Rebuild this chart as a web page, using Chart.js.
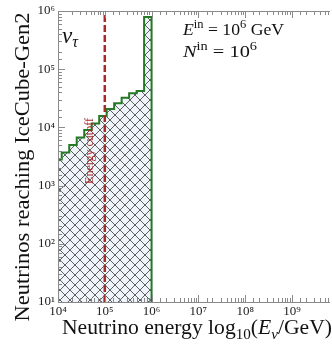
<!DOCTYPE html>
<html>
<head>
<meta charset="utf-8">
<script src="https://cdn.jsdelivr.net/npm/chart.js@4.4.1/dist/chart.umd.min.js"></script>
<style>
    html, body { margin: 0; padding: 0; background: #fff; overflow: hidden; }
</style>
</head>
<body>
<canvas id="TauChart" width="332" height="348"></canvas>
<script>
// log10 of the histogram bin edges (0.16 dex bins), and counts per bin
const binEdges = [3.92, 4.08, 4.24, 4.40, 4.56, 4.72, 4.88, 5.04, 5.20, 5.36, 5.52, 5.68, 5.84, 6.00];
const binCounts = [2800, 3700, 5000, 6700, 9000, 11700, 15700, 20700, 25900, 32400, 38500, 42200, 790000];
const cutoffEnergy = 1e5;
const xRange = [1e4, 6.5e9];
const yRange = [10, 1e6];

const serif = '"Liberation Serif", serif';
const green = "#267a26";
const red = "#a52a2a";

function isDecade(v) {
    const e = Math.log10(v);
    return Math.abs(e - Math.round(e)) < 1e-6;
}

function decadeLabel(v) {
    const sup = "⁰¹²³⁴⁵⁶⁷⁸⁹";
    if (!isDecade(v)) return "";
    const e = String(Math.round(Math.log10(v)));
    return "10" + e.split("").map(d => sup[d]).join("");
}

function hatchPattern() {
    const c = document.createElement("canvas");
    c.width = 10;
    c.height = 10;
    const g = c.getContext("2d");
    g.fillStyle = "#eef4f9";
    g.fillRect(0, 0, 10, 10);
    g.strokeStyle = "#3a3a3a";
    g.lineWidth = 0.8;
    g.beginPath();
    for (let k = -10; k <= 10; k += 10) {
        g.moveTo(k, 0); g.lineTo(k + 10, 10);
        g.moveTo(k, 10); g.lineTo(k + 10, 0);
    }
    g.stroke();
    return g.createPattern(c, "repeat");
}

// step outline: bin left edges carry the count, closed down to the axis at the last edge
// (stepped "before": horizontal at the previous value, then vertical)
function histPoints() {
    const pts = [{ x: Math.pow(10, binEdges[0]), y: binCounts[0] }];
    binCounts.forEach((c, i) => {
        pts.push({ x: Math.pow(10, binEdges[i + 1]), y: i + 1 < binCounts.length ? binCounts[i + 1] : yRange[0] });
    });
    return pts;
}

// mixed-font text; if width is given the run is stretched to that width (palatino is wider than times)
function drawRich(ctx, parts, x, y, align, width) {
    let w = 0;
    parts.forEach(p => { ctx.font = p.font; p.w = ctx.measureText(p.t).width; w += p.w; });
    const sx = width ? width / w : 1;
    ctx.save();
    ctx.translate(x, y);
    ctx.scale(sx, 1);
    let cx = align === "center" ? -w / 2 : 0;
    parts.forEach(p => {
        ctx.font = p.font;
        ctx.fillText(p.t, cx, p.dy || 0);
        cx += p.w;
    });
    ctx.restore();
}

const frameTicks = {
    id: "frameTicks",
    afterDatasetsDraw(chart) {
        const { ctx, chartArea: a, scales: { x, y } } = chart;
        ctx.save();
        ctx.strokeStyle = "#8a8a8a";
        ctx.lineWidth = 1;
        ctx.beginPath();
        x.ticks.forEach(t => {
            const px = Math.round(x.getPixelForValue(t.value)) + 0.5;
            if (px > a.right - 1) return;
            const len = isDecade(t.value) ? 7 : 4;
            ctx.moveTo(px, a.bottom); ctx.lineTo(px, a.bottom - len);
            ctx.moveTo(px, a.top); ctx.lineTo(px, a.top + len);
        });
        y.ticks.forEach(t => {
            const py = Math.round(y.getPixelForValue(t.value)) + 0.5;
            const len = isDecade(t.value) ? 7 : 4;
            ctx.moveTo(a.left, py); ctx.lineTo(a.left + len, py);
        });
        ctx.moveTo(a.left + 0.5, a.top); ctx.lineTo(a.left + 0.5, a.bottom);
        ctx.moveTo(a.left, a.bottom + 0.5); ctx.lineTo(a.right, a.bottom + 0.5);
        ctx.moveTo(a.left, a.top + 0.5); ctx.lineTo(a.right, a.top + 0.5);
        ctx.stroke();
        ctx.restore();
    },
    afterDraw(chart) {
        const { ctx, scales: { x } } = chart;
        ctx.save();
        ctx.fillStyle = "#111";
        ctx.textAlign = "left";
        ctx.textBaseline = "alphabetic";

        drawRich(ctx, [
            { t: "ν", font: `italic 23px ${serif}` },
            { t: "τ", font: `italic 16px ${serif}`, dy: 4 },
        ], 62, 43);

        drawRich(ctx, [
            { t: "E", font: `italic 17px ${serif}` },
            { t: "in", font: `12px ${serif}`, dy: -7 },
            { t: " = 10", font: `17px ${serif}` },
            { t: "6", font: `12px ${serif}`, dy: -7 },
            { t: " GeV", font: `17px ${serif}` },
        ], 183, 35, "left", 101);

        drawRich(ctx, [
            { t: "N", font: `italic 17px ${serif}` },
            { t: "in", font: `12px ${serif}`, dy: -7 },
            { t: " = 10", font: `17px ${serif}` },
            { t: "6", font: `12px ${serif}`, dy: -7 },
        ], 183, 57, "left", 74);

        // x axis title
        drawRich(ctx, [
            { t: "Neutrino energy log", font: `20px ${serif}` },
            { t: "10", font: `14px ${serif}`, dy: 5 },
            { t: "(", font: `20px ${serif}` },
            { t: "E", font: `italic 20px ${serif}` },
            { t: "ν", font: `italic 14px ${serif}`, dy: 5 },
            { t: "/GeV)", font: `20px ${serif}` },
        ], 197, 334, "center", 270);

        // y axis title
        ctx.save();
        ctx.translate(29, 167);
        ctx.rotate(-Math.PI / 2);
        drawRich(ctx, [{ t: "Neutrinos reaching IceCube-Gen2", font: `20px ${serif}` }], 0, 0, "center", 309);
        ctx.restore();

        // cutoff label
        ctx.save();
        ctx.fillStyle = red;
        ctx.translate(x.getPixelForValue(cutoffEnergy) - 15, 151);
        ctx.rotate(-Math.PI / 2);
        ctx.textAlign = "center";
        ctx.textBaseline = "middle";
        ctx.font = `12px ${serif}`;
        ctx.fillText("Energy cutoff", 0, 0);
        ctx.restore();

        ctx.restore();
    },
};

function TauChart() {
    const ctx = document.getElementById("TauChart");

    new Chart(ctx, {
        type: "line",
        data: {
            datasets: [
                {
                    label: "Energy cutoff",
                    data: [{ x: cutoffEnergy, y: yRange[0] }, { x: cutoffEnergy, y: yRange[1] }],
                    borderColor: red,
                    borderWidth: 2.5,
                    borderDash: [7, 3],
                    pointRadius: 0,
                    fill: false,
                    order: 0,
                },
                {
                    label: "nu_tau",
                    data: histPoints(),
                    stepped: "before",
                    borderColor: green,
                    borderWidth: 2,
                    backgroundColor: hatchPattern(),
                    fill: "start",
                    pointRadius: 0,
                    order: 1,
                },
            ],
        },
        options: {
            responsive: false,
            animation: false,
            layout: {
                padding: { top: 11, right: 0, left: 0, bottom: 0 },
            },
            plugins: {
                legend: { display: false },
                tooltip: { enabled: false },
            },
            scales: {
                x: {
                    type: "logarithmic",
                    min: xRange[0],
                    max: xRange[1],
                    afterFit: s => { s.height = 46; },
                    grid: { display: false, drawTicks: false },
                    border: { display: false },
                    ticks: {
                        autoSkip: false,
                        maxRotation: 0,
                        padding: 2,
                        color: "#222",
                        font: { family: serif, size: 13 },
                        callback: v => decadeLabel(v),
                    },
                },
                y: {
                    type: "logarithmic",
                    min: yRange[0],
                    max: yRange[1],
                    afterFit: s => { s.width = 58; },
                    grid: { display: false, drawTicks: false },
                    border: { display: false },
                    ticks: {
                        autoSkip: false,
                        padding: 3,
                        color: "#222",
                        font: { family: serif, size: 13 },
                        callback: v => decadeLabel(v),
                    },
                },
            },
        },
        plugins: [frameTicks],
    });
}

TauChart();
</script>
</body>
</html>
